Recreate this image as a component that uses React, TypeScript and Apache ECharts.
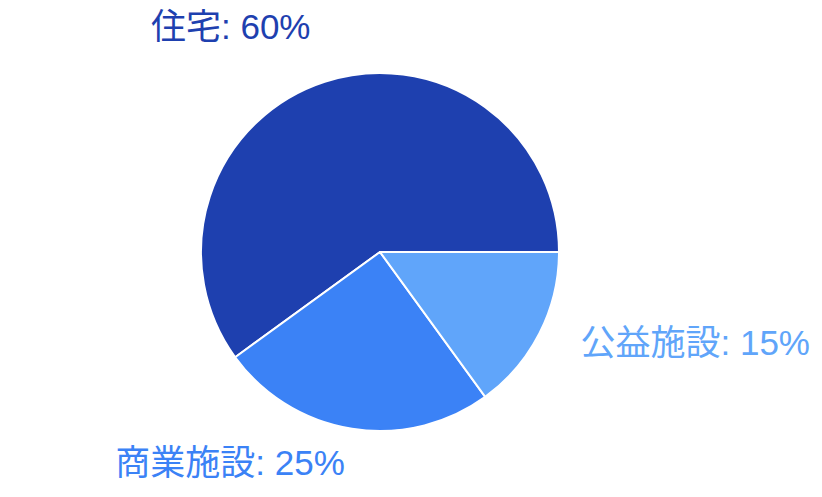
import { useEffect, useRef } from 'react';
import * as echarts from 'echarts';

const categories = ['住宅', '商業施設', '公益施設'];
const shares = [60, 25, 15];
const colors = ['#1e40af', '#3b82f6', '#60a5fa'];

export default function App() {
  const ref = useRef<HTMLDivElement | null>(null);

  useEffect(() => {
    if (!ref.current) return;
    const chart = echarts.init(ref.current, undefined, { renderer: 'svg' });

    chart.setOption({
      animation: false,
      series: [
        {
          type: 'pie',
          center: [380, 252],
          radius: 179,
          startAngle: 0,
          clockwise: false,
          avoidLabelOverlap: false,
          itemStyle: { borderColor: '#fff', borderWidth: 2 },
          label: {
            show: true,
            position: 'outside',
            formatter: '{b}: {c}%',
            fontSize: 35,
            fontFamily: '"Liberation Sans", "Noto Sans CJK JP", sans-serif',
            distanceToLabelLine: 0,
          },
          labelLine: { show: false, length: 46, length2: 0 },
          labelLayout: () => ({ dy: -12 }),
          data: categories.map((name, i) => ({
            name,
            value: shares[i],
            itemStyle: { color: colors[i] },
            label: { color: colors[i] },
          })),
        },
      ],
    });

    return () => chart.dispose();
  }, []);

  return <div ref={ref} style={{ width: 822, height: 497, margin: -8 }} />;
}
